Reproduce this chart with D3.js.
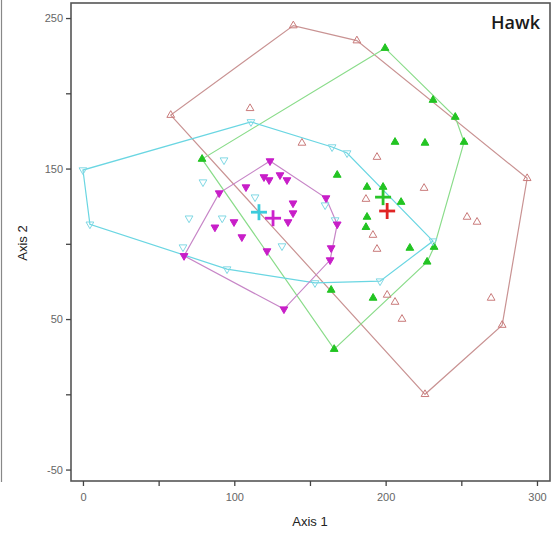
<!DOCTYPE html>
<html>
<head>
<meta charset="utf-8">
<script src="https://cdn.jsdelivr.net/npm/d3@7"></script>
<style>
  body { margin: 0; background: #fff; }
  text { font-family: "Liberation Sans", Arial, sans-serif; }
</style>
</head>
<body>
<svg id="chart" width="558" height="535"></svg>
<script>
// point scores per group
var brownPts = [[58, 185.5], [139, 245], [181, 235], [293.5, 143.5], [277, 46], [226, 0],
  [110.4, 190], [144.7, 167], [194.3, 157.6], [225.4, 137], [187, 129.7], [191.6, 105.8],
  [194.3, 96.5], [201, 66], [206.2, 61.3], [210.8, 50], [253.8, 117.8], [260.4, 114.5], [269.7, 64]];
var greenPts = [[78.7, 156.3], [199.6, 230], [231.3, 195.5], [246, 184.2], [251.8, 167.6],
  [232, 97.8], [227.4, 88], [166, 30],
  [206.2, 167.6], [226, 167], [168, 145.7], [187.7, 137.7], [198.3, 137.7], [210.2, 127.7],
  [187.7, 117.8], [187, 111], [216, 97.2], [164, 69.3], [191.7, 64]];
var cyanPts = [[0, 149], [111, 181], [164.6, 164.3], [174.5, 160.3], [231.3, 101.8],
  [196.3, 75.2], [153.3, 74], [95.2, 83.2], [4.6, 113],
  [93.2, 155.6], [79.3, 141], [70.1, 117], [92, 117], [113.7, 131], [66.1, 97.8],
  [131.5, 98.5], [160, 125.7], [166.6, 115.8]];
var magentaPts = [[123.6, 155], [160.6, 130.4], [168, 113], [164, 97.2], [163.3, 89.2],
  [132.8, 56.6], [66.8, 92], [90, 133.7],
  [107.7, 137.7], [119.6, 144.4], [123, 142.4], [130.2, 145.7], [134.8, 142.4], [138.8, 127],
  [138.8, 120.4], [135.5, 114.5], [99.8, 114.5], [87.2, 111], [105, 104.5], [121.6, 95.2]];
// group centroids
var centroids = [
  { name: 'cyan', x: 116.3, y: 121 },
  { name: 'magenta', x: 125.6, y: 117 },
  { name: 'green', x: 198.3, y: 131 },
  { name: 'brown', x: 201, y: 121.8 }
];
var xTicks = [0, 50, 100, 150, 200, 250, 300];
var yTicks = [-50, 0, 50, 100, 150, 200, 250];
var xLabels = [0, 100, 200, 300];
var yLabels = [-50, 50, 150, 250];

var groups = [
  { name: 'brown', pts: brownPts, line: '#c99393', mark: '#c97a7a', fill: 'none', down: false },
  { name: 'green', pts: greenPts, line: '#8adc8a', mark: '#22c422', fill: '#22c422', down: false },
  { name: 'cyan', pts: cyanPts, line: '#6ad6e2', mark: '#80d8e4', fill: 'none', down: true },
  { name: 'magenta', pts: magentaPts, line: '#c786c7', mark: '#c81ec8', fill: '#c81ec8', down: true }
];
var plusColor = { cyan: '#3ccbdc', magenta: '#cc22cc', green: '#28c428', brown: '#e02424' };

var svg = d3.select('#chart');
var margin = { left: 71, right: 8, top: 3, bottom: 54 };
var width = 558 - margin.left - margin.right,
  height = 535 - margin.top - margin.bottom;

var x = d3.scaleLinear().domain([-7.9, 308.6]).range([0, width]);
var y = d3.scaleLinear().domain([-57.6, 260]).range([height, 0]);

// stray edge line from the neighbouring panel
svg.append('line')
  .attr('x1', 1.5).attr('x2', 1.5).attr('y1', 0).attr('y2', 482)
  .attr('stroke', '#888').attr('stroke-width', 1.2);

var g = svg.append('g').attr('transform', 'translate(' + margin.left + ',' + margin.top + ')');

// hulls
groups.forEach(function(grp) {
  var hull = d3.polygonHull(grp.pts.map(function(p) { return [x(p[0]), y(p[1])]; }));
  g.append('path')
    .attr('d', 'M' + hull.join('L') + 'Z')
    .attr('fill', 'none')
    .attr('stroke', grp.line)
    .attr('stroke-width', 1.2);
});

// markers
var tri = d3.symbol().type(d3.symbolTriangle).size(26);
groups.forEach(function(grp) {
  g.selectAll('.pt-' + grp.name)
    .data(grp.pts)
    .enter().append('path')
    .attr('class', 'pt-' + grp.name)
    .attr('d', tri)
    .attr('transform', function(d) {
      return 'translate(' + x(d[0]) + ',' + y(d[1]) + ')' + (grp.down ? ' rotate(180)' : '');
    })
    .attr('fill', grp.fill)
    .attr('stroke', grp.mark)
    .attr('stroke-width', 1);
});

// centroid crosses
centroids.forEach(function(c) {
  var cx = x(c.x), cy = y(c.y), s = 8;
  var col = plusColor[c.name];
  g.append('line').attr('x1', cx - s).attr('x2', cx + s).attr('y1', cy).attr('y2', cy)
    .attr('stroke', col).attr('stroke-width', 2.8);
  g.append('line').attr('x1', cx).attr('x2', cx).attr('y1', cy - s).attr('y2', cy + s)
    .attr('stroke', col).attr('stroke-width', 2.8);
});

// frame
g.append('rect')
  .attr('x', 0).attr('y', 0).attr('width', width).attr('height', height)
  .attr('fill', 'none').attr('stroke', '#555').attr('stroke-width', 1.6);

// axes
var xAxis = g.append('g')
  .attr('transform', 'translate(0,' + height + ')')
  .call(d3.axisBottom(x).tickValues(xTicks).tickSize(5)
    .tickFormat(function(d) { return xLabels.indexOf(d) >= 0 ? d : ''; }));
var yAxis = g.append('g')
  .call(d3.axisLeft(y).tickValues(yTicks).tickSize(5)
    .tickFormat(function(d) { return yLabels.indexOf(d) >= 0 ? d : ''; }));
[xAxis, yAxis].forEach(function(a) {
  a.select('.domain').remove();
  a.selectAll('line').attr('stroke', '#444').attr('stroke-width', 1.3);
  a.selectAll('text').attr('fill', '#666').style('font-size', '11px');
});
xAxis.selectAll('text').attr('dy', '1.1em');

svg.append('text')
  .attr('x', 310).attr('y', 526)
  .attr('text-anchor', 'middle')
  .style('font-size', '13px').attr('fill', '#222')
  .text('Axis 1');
svg.append('text')
  .attr('transform', 'translate(27,243) rotate(-90)')
  .attr('text-anchor', 'middle')
  .style('font-size', '13px').attr('fill', '#222')
  .text('Axis 2');
svg.append('text')
  .attr('x', 540).attr('y', 29)
  .attr('text-anchor', 'end')
  .style('font-size', '18px').style('font-family', '"Open Sans", sans-serif')
  .style('font-weight', '600')
  .attr('fill', '#1a1a1a')
  .text('Hawk');
</script>
</body>
</html>
